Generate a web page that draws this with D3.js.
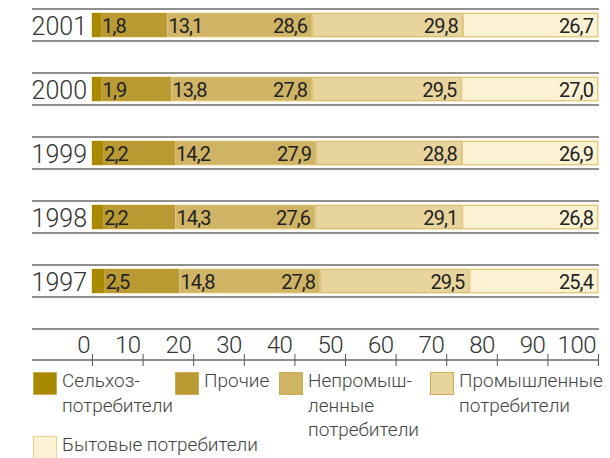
<!DOCTYPE html>
<html><head><meta charset="utf-8">
<script src="https://cdn.jsdelivr.net/npm/d3@7/dist/d3.min.js"></script>
<style>
body{margin:0;background:#fff;}
svg{display:block;}
text{font-family:Roboto,"Liberation Sans",sans-serif;fill:#222;}
</style></head>
<body>
<svg id="c" width="610" height="458"></svg>
<script>
const years = ["2001","2000","1999","1998","1997"];
const seriesNames = ["Сельхоз-потребители","Прочие","Непромышленные потребители","Промышленные потребители","Бытовые потребители"];
const agri     = [1.8, 1.9, 2.2, 2.2, 2.5];
const other    = [13.1, 13.8, 14.2, 14.3, 14.8];
const nonInd   = [28.6, 27.8, 27.9, 27.6, 27.8];
const ind      = [29.8, 29.5, 28.8, 29.1, 29.5];
const household= [26.7, 27.0, 26.9, 26.8, 25.4];
const tickValues = [0,10,20,30,40,50,60,70,80,90,100];
const legendLines = [["Сельхоз-","потребители"],["Прочие"],["Непромыш-","ленные","потребители"],["Промышленные","потребители"],["Бытовые потребители"]];

const colors = ["#a88900","#b99a33","#d0b465","#e8d59e","#fcf1d3"];
const strokes = ["#a88900","#b99a33","#d9bf74","#d8bd72","#e3c97f"];
const series = [agri, other, nonInd, ind, household];

const svg = d3.select("#c");
const x = d3.scaleLinear().domain([0,100]).range([92,598]);
const y = d3.scaleBand().domain(years).range([8,328]);

const rows = years.map((yr,i)=>{
  let c=0;
  return {year:yr, segs: series.map((s,k)=>{const v=s[i]; const seg={k,v,x0:c,x1:c+v}; c+=v; return seg;})};
});

const g = svg.selectAll("g.row").data(rows).join("g").attr("class","row")
  .attr("transform", d=>`translate(0,${y(d.year)})`);

// rule lines
g.append("line").attr("x1",32).attr("x2",599).attr("y1",1).attr("y2",1)
  .attr("stroke","#8f8f8f").attr("stroke-width",2);
g.append("line").attr("x1",32).attr("x2",599).attr("y1",33).attr("y2",33)
  .attr("stroke","#8f8f8f").attr("stroke-width",2);

// year labels
g.append("text").attr("x",87).attr("y",27).attr("text-anchor","end")
  .style("font-size","25px").style("font-weight",300).style("fill","#333")
  .text(d=>d.year);

// bar outline
g.append("rect").attr("x",x(0)-0.5).attr("y",4.5).attr("width",x(100)-x(0)+1).attr("height",25)
  .attr("fill","none").attr("stroke","#f5eac2").attr("stroke-width",1);

g.selectAll("rect.seg").data(d=>d.segs).join("rect").attr("class","seg")
  .attr("x",d=>x(d.x0)+0.5).attr("y",5.5)
  .attr("width",d=>Math.max(0,x(d.x1)-x(d.x0)-1)).attr("height",23)
  .attr("fill",d=>colors[d.k])
  .attr("stroke",d=>strokes[d.k]).attr("stroke-width",1);

g.selectAll("text.val").data(d=>d.segs).join("text").attr("class","val")
  .attr("x",d=>d.k<2? x(d.x1)+1 : x(d.x1)-5)
  .attr("y",25)
  .attr("text-anchor",d=>d.k<2?"start":"end")
  .style("font-size","20px").style("letter-spacing","-0.9px")
  .text(d=>d3.format(".1f")(d.v).replace(".",","));

// axis
svg.append("line").attr("x1",32).attr("x2",599).attr("y1",329).attr("y2",329)
  .attr("stroke","#8f8f8f").attr("stroke-width",2);
svg.append("line").attr("x1",32).attr("x2",599).attr("y1",360).attr("y2",360)
  .attr("stroke","#8f8f8f").attr("stroke-width",2);
const ax = svg.append("g");
ax.selectAll("line.tick").data(tickValues).join("line").attr("class","tick")
  .attr("x1",d=>x(d)+0.5).attr("x2",d=>x(d)+0.5).attr("y1",354).attr("y2",366)
  .attr("stroke","#555").attr("stroke-width",1);
ax.selectAll("text").data(tickValues).join("text")
  .attr("x",d=>x(d)-2).attr("y",353).attr("text-anchor","end")
  .style("font-size","24px").style("font-weight",300).style("fill","#333").style("letter-spacing","-0.5px")
  .text(d=>d);

// legend
const legPos = [[33,372],[175,372],[279,372],[430,372],[33,436]];
const lg = svg.selectAll("g.leg").data(seriesNames).join("g").attr("class","leg")
  .attr("transform",(d,i)=>`translate(${legPos[i][0]},${legPos[i][1]})`);
lg.append("rect").attr("x",0.5).attr("y",0.5).attr("width",23).attr("height",22)
  .attr("fill",(d,i)=>colors[i]).attr("stroke",(d,i)=>i===4?"#ead08a":"#cdae55").attr("stroke-width",1);
lg.each(function(d,i){
  const t = d3.select(this).append("text").attr("x",29).attr("y",15)
    .style("font-size","19px").style("font-weight",300).style("fill","#444");
  legendLines[i].forEach((ln,j)=>{
    t.append("tspan").attr("x",29).attr("dy",j===0?0:24.5).text(ln);
  });
});
</script>
</body></html>
